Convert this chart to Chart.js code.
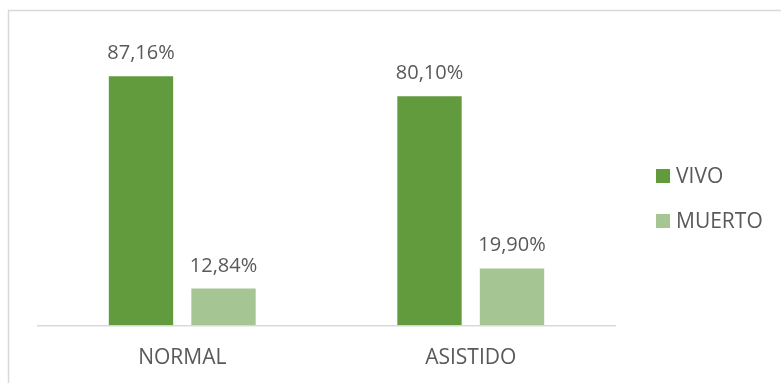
<!DOCTYPE html>
<html>
<head>
<meta charset="utf-8">
<script src="https://cdn.jsdelivr.net/npm/chart.js@4/dist/chart.umd.min.js"></script>
<style>
  html, body { margin: 0; padding: 0; background: #fff; }
  #wrap { width: 781px; height: 383px; position: relative; }
</style>
</head>
<body>
<div id="wrap"><canvas id="partoChart"></canvas></div>
<script>
const categories = ['NORMAL', 'ASISTIDO'];
const vivo = [87.16, 80.10];
const muerto = [12.84, 19.90];
const seriesNames = ['VIVO', 'MUERTO'];

const textColor = '#595959';
const fontFamily = "'Open Sans', sans-serif";

// outer frame of the chart box
const framePlugin = {
    id: 'frame',
    beforeDraw(chart) {
        const ctx = chart.ctx;
        ctx.save();
        ctx.strokeStyle = '#d9d9d9';
        ctx.lineWidth = 1.5;
        ctx.beginPath();
        ctx.moveTo(8.5, chart.height);
        ctx.lineTo(8.5, 10.5);
        ctx.lineTo(chart.width, 10.5);
        ctx.stroke();
        ctx.restore();
    }
};

// percentage label above each bar
const valueLabels = {
    id: 'valueLabels',
    afterDatasetsDraw(chart) {
        const ctx = chart.ctx;
        ctx.save();
        ctx.font = '20px ' + fontFamily;
        ctx.fillStyle = textColor;
        ctx.textAlign = 'center';
        ctx.textBaseline = 'alphabetic';
        chart.data.datasets.forEach((ds, i) => {
            chart.getDatasetMeta(i).data.forEach((bar, j) => {
                const txt = ds.data[j].toFixed(2).replace('.', ',') + '%';
                ctx.fillText(txt, bar.x, bar.y - 17);
            });
        });
        ctx.restore();
    }
};

// legend on the right, square swatches
const sideLegend = {
    id: 'sideLegend',
    afterDraw(chart) {
        const ctx = chart.ctx;
        ctx.save();
        ctx.font = '21px ' + fontFamily;
        ctx.textBaseline = 'middle';
        chart.data.datasets.forEach((ds, i) => {
            const y = 176 + i * 45;
            ctx.fillStyle = ds.backgroundColor;
            ctx.fillRect(656, y - 7, 14, 14);
            ctx.fillStyle = textColor;
            ctx.fillText(ds.label, 676, y + 1);
        });
        ctx.restore();
    }
};

new Chart(document.getElementById('partoChart'), {
    type: 'bar',
    data: {
        labels: categories,
        datasets: [
            { label: seriesNames[0], data: vivo, backgroundColor: '#629b3e' },
            { label: seriesNames[1], data: muerto, backgroundColor: '#a5c593' }
        ]
    },
    options: {
        responsive: true,
        maintainAspectRatio: false,
        animation: false,
        devicePixelRatio: 1,
        categoryPercentage: 0.572,
        barPercentage: 0.78,
        layout: { padding: { left: 38, right: 166, top: 39.5, bottom: 0.5 } },
        plugins: {
            legend: { display: false },
            tooltip: { enabled: false }
        },
        scales: {
            x: {
                grid: { display: false },
                border: { color: '#d9d9d9', width: 1.5 },
                ticks: {
                    color: textColor,
                    font: { family: fontFamily, size: 21 },
                    padding: 12
                }
            },
            y: {
                display: false,
                min: 0,
                max: 100
            }
        }
    },
    plugins: [framePlugin, valueLabels, sideLegend]
});
</script>
</body>
</html>
